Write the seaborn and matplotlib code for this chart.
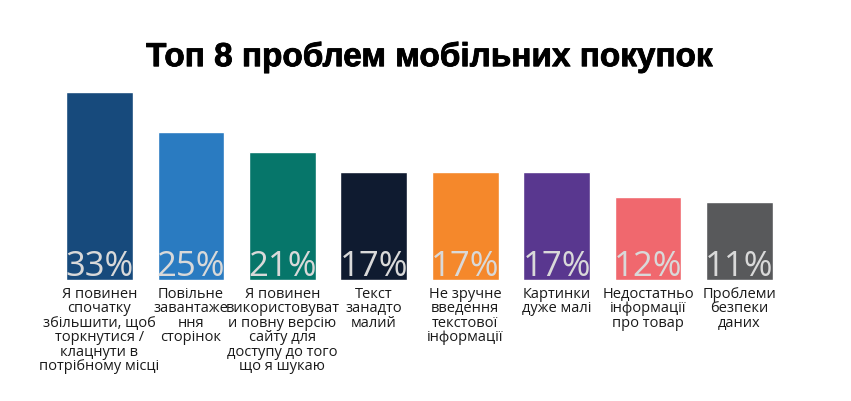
import pandas as pd
import seaborn as sns
import matplotlib.pyplot as plt
import matplotlib.patheffects as pe

# data
categories = [
    "Я повинен\nспочатку\nзбільшити, щоб\nторкнутися /\nклацнути в\nпотрібному місці",
    "Повільне\nзавантаже\nння\nсторінок",
    "Я повинен\nвикористовуват\nи повну версію\nсайту для\nдоступу до того\nщо я шукаю",
    "Текст\nзанадто\nмалий",
    "Не зручне\nвведення\nтекстової\nінформації",
    "Картинки\nдуже малі",
    "Недостатньо\nінформації\nпро товар",
    "Проблеми\nбезпеки\nданих",
]
values = [33, 25, 21, 17, 17, 17, 12, 11]
colors = ["#174a7c", "#2a7bc1", "#06766a", "#0f1b30",
          "#f5882b", "#59378f", "#f0686e", "#58595b"]
title = "Топ 8 проблем мобільних покупок"

base = 4.6  # the original bars start a bit below zero

df = pd.DataFrame({"problem": categories, "value": values})
df["height"] = df["value"] + base

sns.set_style("white")
plt.rcParams['font.family'] = ['Open Sans', 'DejaVu Sans']

fig = plt.figure(figsize=(8.51, 4.01), dpi=100)
ax = fig.add_axes([0.0632, 0.3017, 0.8595, 0.4988])

sns.barplot(data=df, x="problem", y="height", hue="problem", palette=colors,
            legend=False, width=0.73, saturation=1, ax=ax)

ax.set_xlim(-0.5, len(categories) - 0.5)
ax.set_ylim(0, 40)
ax.set_axis_off()

for i, row in df.iterrows():
    ax.text(i, 0.8, f"{row['value']}%", ha="center", va="baseline",
            fontsize=25, color="#d9d9d9")
    ax.text(i, -1.4, row["problem"], ha="center", va="top", fontsize=10.5,
            color="#1a1a1a", linespacing=0.95, clip_on=False)

fig.text(0.5053, 0.835, title, ha="center", va="baseline", fontsize=24,
         fontweight="bold", family=["Liberation Sans", "DejaVu Sans"],
         color="black",
         path_effects=[pe.withStroke(linewidth=0.6, foreground="black")])

fig.savefig("out.png", dpi=100, facecolor="white")
